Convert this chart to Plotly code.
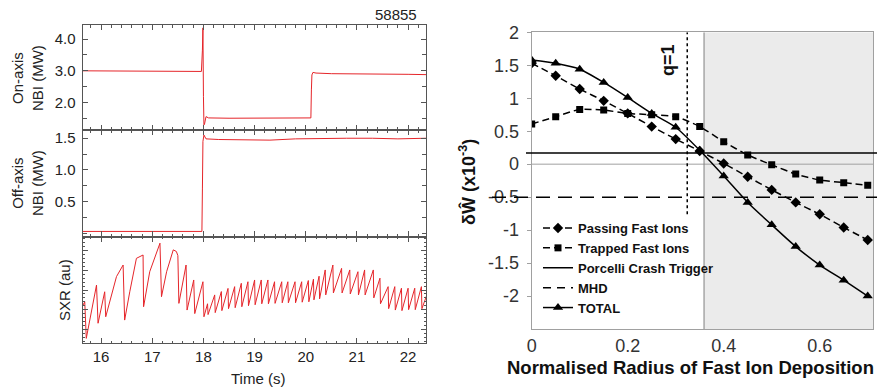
import plotly.graph_objects as go

# ---------------- data: left panels (shot 58855) ----------------
on_t = [15.64, 16.5, 17.0, 17.5, 17.96, 17.98, 17.99, 18.00, 18.01, 18.02, 18.05, 18.10, 18.5, 19.0, 19.5, 20.0, 20.10, 20.11, 20.12, 20.14, 20.2, 20.5, 21.0, 21.5, 22.0, 22.35]
on_v = [3.00, 2.99, 3.00, 3.00, 2.98, 3.65, 4.35, 2.20, 1.30, 1.32, 1.56, 1.52, 1.51, 1.51, 1.51, 1.52, 1.52, 2.40, 2.87, 2.95, 2.93, 2.91, 2.91, 2.90, 2.89, 2.88]

off_t = [15.64, 17.0, 17.97, 17.98, 17.99, 18.01, 18.05, 18.3, 18.8, 19.3, 19.8, 20.3, 20.8, 21.3, 21.8, 22.35]
off_v = [0.03, 0.03, 0.03, 0.70, 1.45, 1.55, 1.49, 1.48, 1.48, 1.47, 1.49, 1.50, 1.50, 1.50, 1.49, 1.50]

sxr_t = [15.58, 15.68, 15.71, 15.91, 15.94, 16.07, 16.09, 16.23, 16.30, 16.43,
         16.46, 16.56, 16.69, 16.82, 16.83, 16.95, 17.15, 17.18, 17.28, 17.41,
         17.47, 17.50, 17.52, 17.66, 17.68, 17.81, 17.83, 17.99, 18.01, 18.08, 18.09,
         18.22, 18.23, 18.35, 18.36, 18.48, 18.49, 18.61, 18.62, 18.74, 18.75,
         18.87, 18.88, 19.00, 19.01, 19.13, 19.14, 19.26, 19.27, 19.39, 19.40,
         19.53, 19.54, 19.65, 19.66, 19.79, 19.80, 19.92, 19.93, 20.05, 20.06,
         20.15, 20.16, 20.26, 20.27, 20.38, 20.39, 20.53, 20.54, 20.70, 20.71,
         20.86, 20.87, 21.02, 21.03, 21.15, 21.16, 21.32, 21.33, 21.45, 21.46,
         21.61, 21.62, 21.74, 21.75, 21.87, 21.88, 22.00, 22.01, 22.13, 22.14,
         22.26, 22.27, 22.36]
sxr_v = [1.90, 2.40, 0.54, 3.25, 1.31, 2.91, 1.64, 3.09, 3.68, 4.27,
         1.47, 2.91, 4.61, 4.78, 2.15, 3.93, 5.38, 2.66, 3.93, 5.04,
         4.96, 4.75, 2.32, 4.27, 1.98, 3.51, 1.80, 3.42, 1.64, 2.30, 1.75,
         2.75, 1.85, 2.92, 1.95, 3.08, 2.05, 3.17, 2.10, 3.34, 2.15,
         3.42, 2.20, 3.51, 2.25, 3.51, 2.30, 3.51, 2.30, 3.42, 2.32,
         3.42, 2.35, 3.42, 2.35, 3.42, 2.35, 3.42, 2.38, 3.48, 2.40,
         3.55, 2.50, 3.70, 2.55, 4.02, 2.75, 4.27, 2.85, 4.10, 2.85,
         4.02, 2.80, 3.93, 2.75, 4.02, 2.75, 4.02, 2.60, 3.60, 2.30,
         3.17, 2.05, 3.17, 1.98, 3.09, 1.95, 3.09, 2.00, 3.09, 2.00,
         3.17, 2.05, 2.70]

time_ticks = [16, 17, 18, 19, 20, 21, 22]
on_ticks = [2.0, 3.0, 4.0]
off_ticks = [0.5, 1.0, 1.5]

# ---------------- data: right panel ----------------
radius = [0.0, 0.05, 0.10, 0.15, 0.20, 0.25, 0.30, 0.35, 0.40, 0.45, 0.50, 0.55, 0.60, 0.65, 0.70]
passing = [1.53, 1.34, 1.14, 0.96, 0.77, 0.57, 0.38, 0.20, 0.01, -0.19, -0.39, -0.58, -0.76, -0.96, -1.15]
trapped = [0.61, 0.72, 0.83, 0.82, 0.77, 0.75, 0.72, 0.57, 0.34, 0.14, -0.01, -0.15, -0.24, -0.28, -0.32]
total = [1.58, 1.53, 1.44, 1.24, 1.01, 0.77, 0.56, 0.21, -0.18, -0.58, -0.92, -1.25, -1.53, -1.76, -2.00]
porcelli_level = 0.17
mhd_level = -0.50
q1_radius = 0.324
shade_start = 0.359
dw_ticks = [2, 1.5, 1, 0.5, 0, -0.5, -1, -1.5, -2]
dw_ticktext = ["2", "1.5", "1", "0.5", "0", "-0.5", "-1", "-1.5", "-2"]
r_ticks = [0, 0.2, 0.4, 0.6]
r_ticktext = ["0", "0.2", "0.4", "0.6"]

W, H = 885, 389
def px(x):
    return x / W
def py(y):
    return 1 - y / H

RED = "#e5252a"
FONT = "Liberation Sans, Arial, sans-serif"
FRAME = "#555555"

fig = go.Figure()
fig.add_trace(go.Scatter(x=on_t, y=on_v, mode="lines", line=dict(color=RED, width=1),
                         xaxis="x", yaxis="y", showlegend=False))
fig.add_trace(go.Scatter(x=off_t, y=off_v, mode="lines", line=dict(color=RED, width=1),
                         xaxis="x2", yaxis="y2", showlegend=False))
fig.add_trace(go.Scatter(x=sxr_t, y=sxr_v, mode="lines", line=dict(color=RED, width=1),
                         xaxis="x3", yaxis="y3", showlegend=False))

# right panel traces
fig.add_trace(go.Scatter(x=radius, y=passing, mode="lines+markers", name="Passing Fast Ions",
                         line=dict(color="black", width=1.5, dash="7px,4px", shape="spline", smoothing=0.6),
                         marker=dict(symbol="diamond", size=8, color="black"),
                         xaxis="x4", yaxis="y4"))
fig.add_trace(go.Scatter(x=radius, y=trapped, mode="lines+markers", name="Trapped Fast Ions",
                         line=dict(color="black", width=1.5, dash="7px,4px", shape="spline", smoothing=0.6),
                         marker=dict(symbol="square", size=7, color="black"),
                         xaxis="x4", yaxis="y4"))
fig.add_trace(go.Scatter(x=[None], y=[None], mode="lines", name="Porcelli Crash Trigger",
                         line=dict(color="black", width=1.5), xaxis="x4", yaxis="y4"))
fig.add_trace(go.Scatter(x=[None], y=[None], mode="lines", name="MHD",
                         line=dict(color="black", width=1.5, dash="8px,6px"), xaxis="x4", yaxis="y4"))
fig.add_trace(go.Scatter(x=radius, y=total, mode="lines+markers", name="TOTAL",
                         line=dict(color="black", width=1.5, shape="spline", smoothing=0.6),
                         marker=dict(symbol="triangle-up", size=9, color="black"),
                         xaxis="x4", yaxis="y4"))

xdom = [px(82.7), px(426)]
tickfont = dict(family=FONT, size=15, color="#222")
common_x = dict(range=[15.64, 22.35], domain=xdom, showline=True, linecolor=FRAME, linewidth=1.3,
                mirror="allticks", ticks="inside", ticklen=5, tickcolor=FRAME, tickwidth=1,
                tickvals=time_ticks, showgrid=False, zeroline=False, automargin=False,
                minor=dict(ticks="inside", ticklen=2.5, dtick=0.2, tickcolor=FRAME, showgrid=False),
                tickfont=tickfont)
common_y = dict(showline=True, linecolor=FRAME, linewidth=1.3, mirror="allticks", ticks="inside",
                ticklen=5, tickcolor=FRAME, showgrid=False, zeroline=False, tickfont=tickfont,
                ticklabelstandoff=3, automargin=False)

fig.update_layout(
    width=W, height=H, autosize=False,
    margin=dict(l=0, r=0, t=0, b=0, pad=0, autoexpand=False),
    paper_bgcolor="white", plot_bgcolor="white",
    xaxis=dict(common_x, anchor="y", showticklabels=False),
    xaxis2=dict(common_x, anchor="y2", showticklabels=False),
    xaxis3=dict(common_x, anchor="y3", showticklabels=True,
                ticktext=[str(v) for v in time_ticks], ticklabelstandoff=0),
    yaxis=dict(common_y, anchor="x", domain=[py(130), py(25)], range=[1.14, 4.44],
               tickvals=on_ticks, ticktext=["%.1f" % v for v in on_ticks],
               minor=dict(ticks="inside", ticklen=4, dtick=0.5, tick0=0, tickcolor=FRAME, showgrid=False)),
    yaxis2=dict(common_y, anchor="x2", domain=[py(236.5), py(130)], range=[-0.05, 1.63],
                tickvals=off_ticks, ticktext=["%.1f" % v for v in off_ticks],
                minor=dict(ticks="inside", ticklen=4, dtick=0.25, tick0=0, tickcolor=FRAME, showgrid=False)),
    yaxis3=dict(common_y, anchor="x3", domain=[py(343.3), py(236.5)], range=[0.29, 5.72],
                tickvals=[1, 2, 3, 4, 5], showticklabels=False,
                minor=dict(ticks="inside", ticklen=2, dtick=0.2, tickcolor=FRAME, showgrid=False)),
    xaxis4=dict(domain=[px(531.7), px(873)], range=[0, 0.711], anchor="y4",
                showline=True, linecolor="#a0a0a0", linewidth=1, mirror=True, automargin=False,
                showgrid=False, zeroline=False, ticks="", tickvals=r_ticks, ticktext=r_ticktext,
                tickfont=dict(family=FONT, size=18, color="#333"), ticklabelstandoff=0),
    yaxis4=dict(domain=[py(329), py(32.3)], range=[-2.5, 2.0], anchor="x4",
                showline=True, linecolor="#a0a0a0", linewidth=1, mirror=True, automargin=False,
                showgrid=False, zeroline=False, ticks="outside", ticklen=4, tickcolor="#a0a0a0",
                tickvals=dw_ticks, ticktext=dw_ticktext,
                tickfont=dict(family=FONT, size=18, color="#333"), ticklabelstandoff=4),
    legend=dict(x=px(538), y=py(213), xanchor="left", yanchor="top",
                bgcolor="rgba(0,0,0,0)", borderwidth=0, tracegroupgap=0,
                font=dict(family=FONT, size=13, color="#111", weight="bold"),
                itemwidth=30),
)

shapes = [
    dict(type="rect", xref="x4", yref="y4", x0=shade_start, x1=0.711, y0=-2.5, y1=2.0,
         fillcolor="#ebebeb", line=dict(width=0), layer="below"),
    dict(type="line", xref="x4", yref="y4", x0=0, x1=0.711, y0=0, y1=0,
         line=dict(color="#a0a0a0", width=1), layer="below"),
    dict(type="line", xref="x4", yref="y4", x0=shade_start, x1=shade_start, y0=-2.5, y1=2.0,
         line=dict(color="#808080", width=1), layer="below"),
    dict(type="line", xref="paper", yref="y4", x0=px(526), x1=px(877), y0=porcelli_level, y1=porcelli_level,
         line=dict(color="black", width=1.5)),
    dict(type="line", xref="paper", yref="y4", x0=px(492), x1=px(877), y0=mhd_level, y1=mhd_level,
         line=dict(color="black", width=1.5, dash="14px,8px")),
    dict(type="line", xref="x4", yref="y4", x0=q1_radius, x1=q1_radius, y0=-0.76, y1=2.0,
         line=dict(color="black", width=1.5, dash="dot")),
]
fig.update_layout(shapes=shapes)

def ann(text, x, y, size=15, angle=0, bold=False, color="#222"):
    f = dict(family=FONT, size=size, color=color)
    if bold:
        f["weight"] = "bold"
    return dict(text=text, x=px(x), y=py(y), xref="paper", yref="paper", showarrow=False,
                xanchor="center", yanchor="middle", textangle=angle, font=f)

annots = [
    ann("58855", 396, 14),
    ann("On-axis<br>NBI (MW)", 27, 78, angle=-90),
    ann("Off-axis<br>NBI (MW)", 27, 183, angle=-90),
    ann("SXR (au)", 64, 290, angle=-90),
    ann("Time (s)", 258, 378),
    ann("Normalised Radius of Fast Ion Deposition", 690, 367, size=18.5, bold=True, color="#111"),
    ann("δŴ (x10<sup>-3</sup>)", 468, 182, size=18, angle=-90, bold=True, color="#111"),
    ann("q=1", 668, 60, size=18, angle=-90, bold=True, color="#111"),
]
fig.update_layout(annotations=annots)

fig.write_html("out.html")
